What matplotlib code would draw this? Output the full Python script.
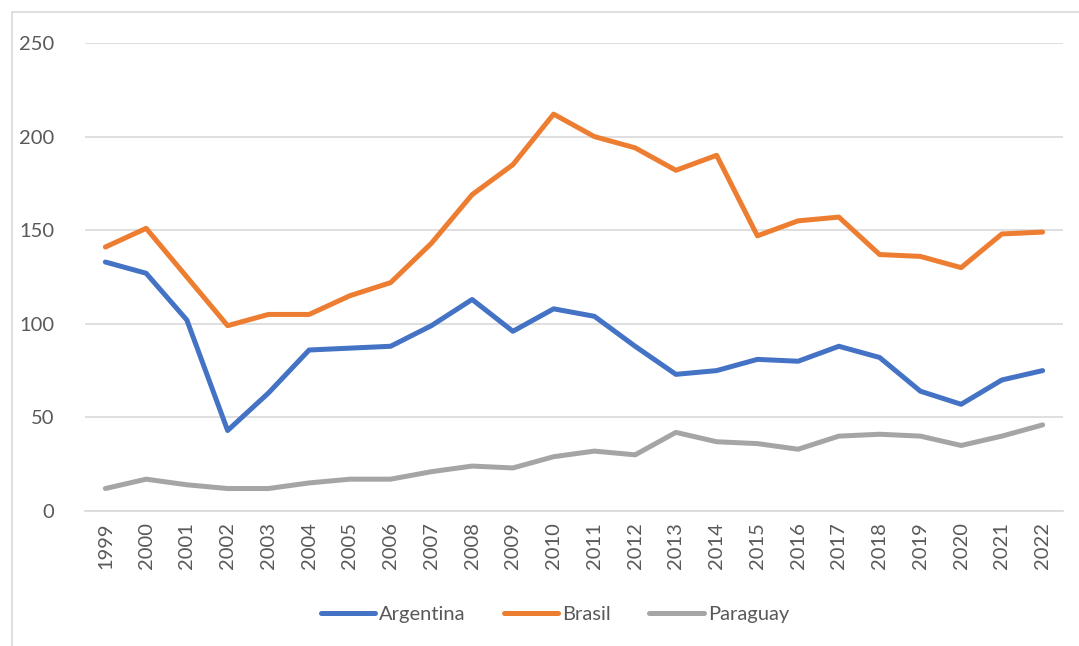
import matplotlib
matplotlib.use("Agg")
import matplotlib.pyplot as plt
from matplotlib.patches import Rectangle

years = [str(y) for y in range(1999, 2023)]
argentina = [133, 127, 102, 43, 63, 86, 87, 88, 99, 113, 96, 108, 104, 88, 73, 75, 81, 80, 88, 82, 64, 57, 70, 75]
brasil = [141, 151, 125, 99, 105, 105, 115, 122, 143, 169, 185, 212, 200, 194, 182, 190, 147, 155, 157, 137, 136, 130, 148, 149]
paraguay = [12, 17, 14, 12, 12, 15, 17, 17, 21, 24, 23, 29, 32, 30, 42, 37, 36, 33, 40, 41, 40, 35, 40, 46]
series_names = ["Argentina", "Brasil", "Paraguay"]
colors = ["#4472C4", "#ED7D31", "#A5A5A5"]
yticks = [0, 50, 100, 150, 200, 250]

plt.rcParams['font.family'] = ['Lato', 'DejaVu Sans']
fig = plt.figure(figsize=(10.79, 6.46), dpi=100)
fig.patches.append(Rectangle((12/1079, -0.01), 1.02, 1 - 12/646 + 0.01, transform=fig.transFigure,
                             fill=False, edgecolor="#D9D9D9", linewidth=1.2, zorder=0))
ax = fig.add_axes([85/1079, 1 - 511/646, (1063 - 85)/1079, (511 - 43)/646])

x = list(range(len(years)))
for vals, name, c in zip([argentina, brasil, paraguay], series_names, colors):
    ax.plot(x, vals, color=c, linewidth=3.6, label=name, solid_joinstyle='round', solid_capstyle='round')

ax.set_xlim(-0.5, len(years) - 0.5)
ax.set_ylim(0, 250)
ax.set_yticks(yticks)
ax.set_xticks(x)
ax.set_xticklabels(years, rotation=90)
ax.yaxis.grid(True, color="#D9D9D9", linewidth=1.2)
ax.set_axisbelow(True)
for s in ["top", "right", "left"]:
    ax.spines[s].set_visible(False)
ax.spines["bottom"].set_color("#D9D9D9")
ax.spines["bottom"].set_linewidth(1.2)
ax.tick_params(axis='both', length=0, labelsize=14.5, labelcolor="#595959")
ax.tick_params(axis='y', pad=22)
ax.tick_params(axis='x', pad=8)

leg = fig.legend(loc='center', bbox_to_anchor=(555/1079, 1 - 614/646), ncol=3, frameon=False,
                 fontsize=14.5, handlelength=2.7, columnspacing=1.9, handletextpad=0.2)
for t in leg.get_texts():
    t.set_color("#595959")

fig.savefig("out.png", dpi=100)
